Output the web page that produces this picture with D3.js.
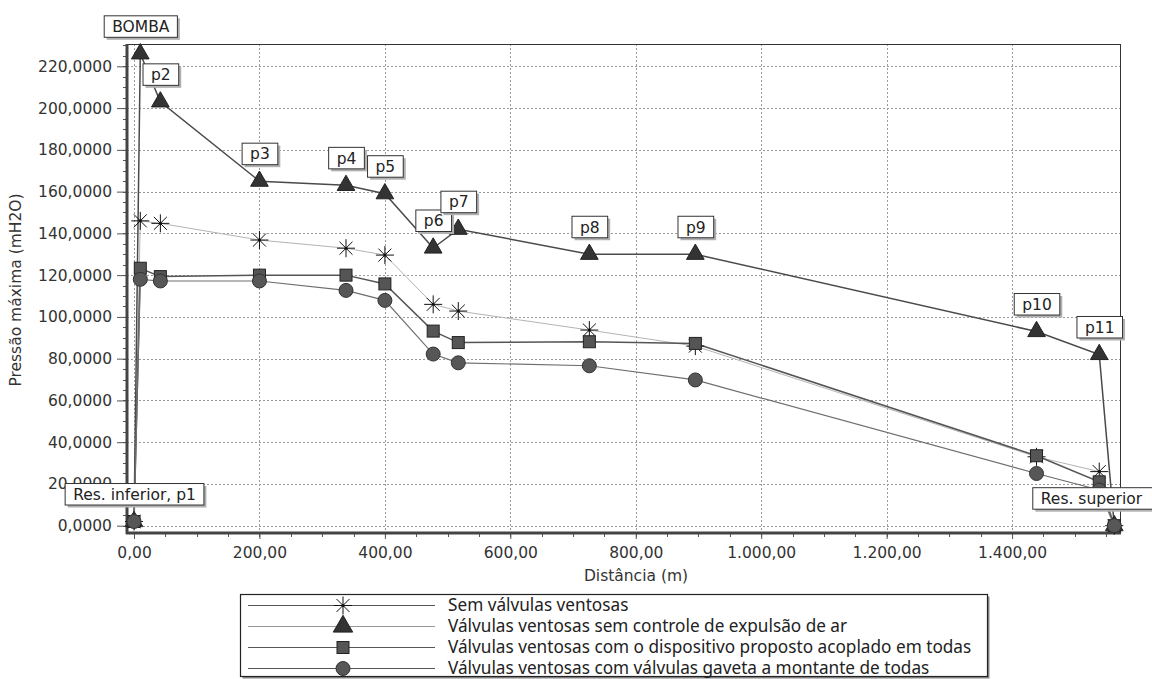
<!DOCTYPE html>
<html>
<head>
<meta charset="utf-8">
<script src="https://cdn.jsdelivr.net/npm/d3@7"></script>
<style>
  html, body { margin: 0; padding: 0; background: #fff; }
  svg { display: block; }
</style>
</head>
<body>
<svg id="chart" width="1152" height="679"></svg>
<script>
// ---------------- DATA ----------------
const pointNames = ["Res. inferior, p1", "BOMBA", "p2", "p3", "p4", "p5", "p6", "p7", "p8", "p9", "p10", "p11", "Res. superior"];
const distances = [0, 10, 42, 200, 338, 400, 477, 517, 726, 895, 1439, 1539, 1563];
const semValvulas = [2, 146, 144.8, 136.8, 132.9, 129.6, 106, 102.8, 93.7, 86, 33, 25.9, 0];
const semControle = [2, 226, 203, 165, 163, 159, 133, 142, 130, 130, 93, 82, 0];
const dispositivo = [2, 123.3, 119.3, 120, 120, 115.8, 93.2, 87.7, 88.1, 87.3, 33.5, 21, 0];
const gaveta = [2, 118, 117.2, 117.2, 112.7, 107.9, 82.2, 78, 76.6, 69.8, 25, 17.1, 0];
const seriesNames = [
  "Sem válvulas ventosas",
  "Válvulas ventosas sem controle de expulsão de ar",
  "Válvulas ventosas com o dispositivo proposto acoplado em todas",
  "Válvulas ventosas com válvulas gaveta a montante de todas"
];
const xTicks = [0, 200, 400, 600, 800, 1000, 1200, 1400];
const yTicks = [0, 20, 40, 60, 80, 100, 120, 140, 160, 180, 200, 220];
const xMinorStep = 50;
const yMinorStep = 5;
const xTitle = "Distância (m)";
const yTitle = "Pressão máxima (mH2O)";

// ---------------- SETUP ----------------
const svg = d3.select("#chart");
const L = 127, R = 1121, T = 44, B = 533;
const x = d3.scaleLinear().domain([-11.2, 1573.7]).range([L, R]);
const y = d3.scaleLinear().domain([-3.5, 230.7]).range([B, T]);
const loc = d3.formatLocale({decimal: ",", thousands: ".", grouping: [3], currency: ["", ""]});
const yFmt = loc.format(",.4f");
const xFmt = loc.format(",.2f");
const FONT = "DejaVu Sans, Verdana, sans-serif";

// plot background
svg.append("rect").attr("x", L).attr("y", T).attr("width", R - L).attr("height", B - T).attr("fill", "#fff");

// grid
const grid = svg.append("g").attr("stroke", "#9a9a9a").attr("stroke-width", 1).attr("stroke-dasharray", "2,2");
grid.selectAll("line.gx").data(xTicks).join("line")
  .attr("x1", d => Math.round(x(d)) + 0.5).attr("x2", d => Math.round(x(d)) + 0.5)
  .attr("y1", T).attr("y2", B);
grid.selectAll("line.gy").data(yTicks).join("line")
  .attr("x1", L).attr("x2", R)
  .attr("y1", d => Math.round(y(d)) + 0.5).attr("y2", d => Math.round(y(d)) + 0.5);

// plot border
svg.append("rect").attr("x", L + 0.5).attr("y", T + 0.5).attr("width", R - L - 1).attr("height", B - T - 1)
  .attr("fill", "none").attr("stroke", "#333").attr("stroke-width", 1);

// minor ticks
const xMinor = d3.range(0, 1573, xMinorStep);
const yMinor = d3.range(0, 231, yMinorStep);
const minor = svg.append("g").attr("stroke", "#555").attr("stroke-width", 1);
minor.selectAll("line.mx").data(xMinor).join("line")
  .attr("x1", d => Math.round(x(d)) + 0.5).attr("x2", d => Math.round(x(d)) + 0.5)
  .attr("y1", B).attr("y2", B + 4);
minor.selectAll("line.my").data(yMinor).join("line")
  .attr("y1", d => Math.round(y(d)) + 0.5).attr("y2", d => Math.round(y(d)) + 0.5)
  .attr("x1", L - 4).attr("x2", L);

// axes
const xAxis = svg.append("g").attr("transform", `translate(0,${B})`)
  .call(d3.axisBottom(x).tickValues(xTicks).tickFormat(xFmt).tickSize(6).tickPadding(8));
const yAxis = svg.append("g").attr("transform", `translate(${L},0)`)
  .call(d3.axisLeft(y).tickValues(yTicks).tickFormat(yFmt).tickSize(10).tickPadding(5));
[xAxis, yAxis].forEach(g => {
  g.select(".domain").remove();
  g.selectAll(".tick line").attr("stroke", "#555");
  g.selectAll("text").attr("fill", "#333").style("font-family", FONT).style("font-size", "15.5px");
});
// thick axis lines
svg.append("line").attr("x1", L - 1).attr("x2", R).attr("y1", B).attr("y2", B).attr("stroke", "#444").attr("stroke-width", 3);
svg.append("line").attr("x1", L).attr("x2", L).attr("y1", T).attr("y2", B + 1).attr("stroke", "#444").attr("stroke-width", 3);

// axis titles
svg.append("text").attr("x", 636).attr("y", 581).attr("text-anchor", "middle")
  .style("font-family", FONT).style("font-size", "15.5px").attr("fill", "#333").text(xTitle);
svg.append("text").attr("transform", "translate(21,290) rotate(-90)").attr("text-anchor", "middle")
  .style("font-family", FONT).style("font-size", "15.5px").attr("fill", "#333").text(yTitle);

// ---------------- SERIES ----------------
const starPath = (r) => { const d = r * 0.72; return `M0,${-r}V${r}M${-r},0H${r}M${-d},${-d}L${d},${d}M${-d},${d}L${d},${-d}`; };
const series = [
  {name: seriesNames[0], values: semValvulas, line: "#b4b4b4", lw: 1, shape: "star"},
  {name: seriesNames[1], values: semControle, line: "#4a4a4a", lw: 1.5, shape: "tri"},
  {name: seriesNames[2], values: dispositivo, line: "#555", lw: 1.5, shape: "sq"},
  {name: seriesNames[3], values: gaveta, line: "#6e6e6e", lw: 1.2, shape: "circ"}
];
const lineGen = d3.line().x(d => x(d[0])).y(d => y(d[1]));
const linesG = svg.append("g");
series.forEach(s => {
  const pts = distances.map((d, i) => [d, s.values[i]]);
  linesG.append("path").attr("d", lineGen(pts)).attr("fill", "none")
    .attr("stroke", s.line).attr("stroke-width", s.lw);
});

function drawMarker(g, shape, cx, cy, scale = 1) {
  if (shape === "star") {
    g.append("path").attr("d", starPath(9 * scale)).attr("transform", `translate(${cx},${cy})`)
      .attr("stroke", "#111").attr("stroke-width", 1).attr("fill", "none");
    g.append("circle").attr("cx", cx).attr("cy", cy).attr("r", 1.5).attr("fill", "#111");
  } else if (shape === "tri") {
    g.append("path").attr("d", d3.symbol(d3.symbolTriangle, 135 * scale * scale)())
      .attr("transform", `translate(${cx},${cy})`)
      .attr("fill", "#333").attr("stroke", "#222").attr("stroke-width", 1);
  } else if (shape === "sq") {
    const s = 12 * scale;
    g.append("rect").attr("x", cx - s / 2).attr("y", cy - s / 2).attr("width", s).attr("height", s)
      .attr("fill", "#555").attr("stroke", "#222").attr("stroke-width", 1);
  } else {
    g.append("circle").attr("cx", cx).attr("cy", cy).attr("r", 7 * scale)
      .attr("fill", "#575757").attr("stroke", "#333").attr("stroke-width", 1);
  }
}
const markersG = svg.append("g");
series.forEach(s => {
  distances.forEach((d, i) => drawMarker(markersG, s.shape, x(d), y(s.values[i])));
});

// ---------------- POINT LABELS ----------------
const labelsG = svg.append("g");
pointNames.forEach((name, i) => {
  const px = x(distances[i]);
  const py = y(semControle[i]);
  const g = labelsG.append("g");
  const t = g.append("text").style("font-family", FONT).style("font-size", "15.5px").attr("fill", "#222").text(name);
  const tw = t.node().getComputedTextLength();
  const bw = (name === "Res. superior" ? 164 : tw + 16);
  const bh = 21.5;
  const bx = px - bw / 2;
  const by = py - 17 - bh;
  g.insert("rect", "text").attr("x", bx + 3).attr("y", by + 3).attr("width", bw).attr("height", bh).attr("fill", "#b0b0b0");
  g.insert("rect", "text").attr("x", bx + 0.5).attr("y", by + 0.5).attr("width", bw).attr("height", bh)
    .attr("fill", "#fff").attr("stroke", "#333").attr("stroke-width", 1);
  t.attr("x", bx + 8.5).attr("y", by + bh / 2 + 6);
});

// ---------------- LEGEND ----------------
const lg = svg.append("g");
const LX = 240, LY = 594, LW = 747, LH = 82;
lg.append("rect").attr("x", LX + 2.5).attr("y", LY + 2.5).attr("width", LW).attr("height", LH).attr("fill", "#888");
lg.append("rect").attr("x", LX + 0.5).attr("y", LY + 0.5).attr("width", LW).attr("height", LH)
  .attr("fill", "#fff").attr("stroke", "#222").attr("stroke-width", 1.2);
const legendLineColors = ["#555", "#999", "#555", "#555"];
series.forEach((s, i) => {
  const ly = LY + 11 + i * 21;
  lg.append("line").attr("x1", 248).attr("x2", 435).attr("y1", ly + 0.5).attr("y2", ly + 0.5)
    .attr("stroke", legendLineColors[i]).attr("stroke-width", 1);
  drawMarker(lg, s.shape, 343, ly + 0.5, s.shape === "tri" ? 1.1 : 1);
  lg.append("text").attr("x", 448).attr("y", ly + 6)
    .style("font-family", "Noto Sans, Open Sans, sans-serif").style("font-size", "17.2px").attr("fill", "#222")
    .text(s.name);
});
</script>
</body>
</html>
